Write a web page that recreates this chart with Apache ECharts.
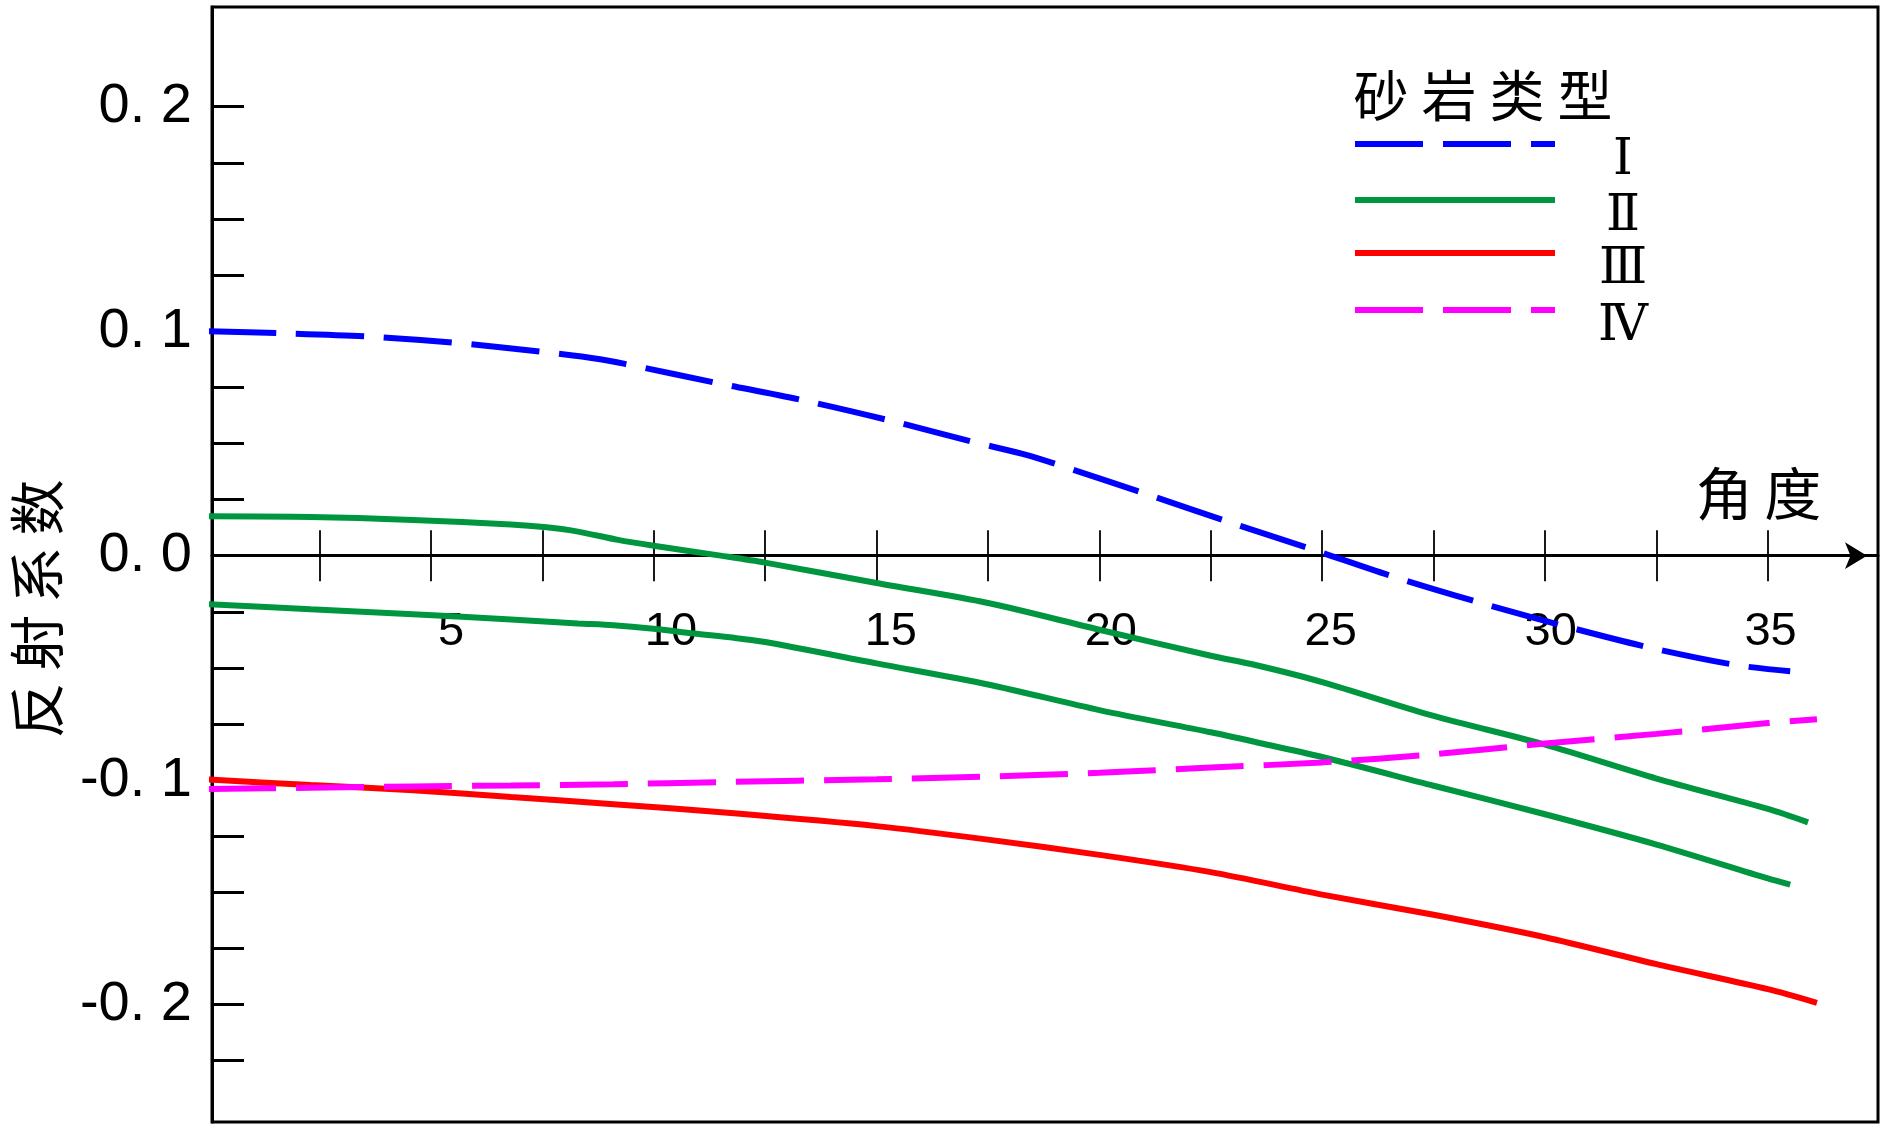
<!DOCTYPE html>
<html><head><meta charset="utf-8">
<script src="https://cdn.jsdelivr.net/npm/echarts@6/dist/echarts.min.js"></script>
<style>html,body{margin:0;padding:0;background:#fff}#c{width:1890px;height:1130px}</style>
</head><body><div id="c"></div>
<script>
// ---- data ----
const typeNames = ['Ⅰ', 'Ⅱ', 'Ⅲ', 'Ⅳ'];
const legendTitle = '砂岩类型';
const xName = '角度';
const yName = '反射系数';

const angleI = [0, 1.6, 3.6, 5.5, 7.5, 8.8, 9.5, 11.4, 13.4, 15.3, 17.2, 18.4, 19.1, 21.0, 22.9, 24.8, 26.6, 28.6, 30.5, 32.4, 34.3, 35.5];
const refI   = [0.1000, 0.0991, 0.0976, 0.0949, 0.0908, 0.0875, 0.0848, 0.0770, 0.0690, 0.0602, 0.0505, 0.0447, 0.0403, 0.0278, 0.0150, 0.0026, -0.0094, -0.0213, -0.0317, -0.0412, -0.0488, -0.0515];

const angleIIa = [0, 2.3, 4.6, 6.8, 7.6, 8.3, 9.2, 10.0, 11.5, 12.5, 15.0, 17.5, 20.0, 22.5, 23.5, 25.0, 27.5, 30.0, 32.5, 35.0, 35.9];
const refIIa   = [0.0175, 0.0172, 0.0159, 0.0139, 0.0126, 0.0107, 0.0070, 0.0044, 0.0, -0.0031, -0.0122, -0.0211, -0.0330, -0.0446, -0.0487, -0.0563, -0.0714, -0.0842, -0.0993, -0.1128, -0.1188];

const angleIIb = [0, 2.3, 4.6, 6.8, 8.3, 9.1, 10.0, 10.9, 11.8, 12.5, 15.0, 17.5, 20.0, 22.5, 23.5, 25.0, 27.5, 30.0, 32.5, 35.0, 35.5];
const refIIb   = [-0.0216, -0.0239, -0.0261, -0.0285, -0.0302, -0.0310, -0.0326, -0.0347, -0.0366, -0.0385, -0.0480, -0.0574, -0.0688, -0.0787, -0.0830, -0.0897, -0.1025, -0.1152, -0.1287, -0.1438, -0.1466];

const angleIII = [0, 2.3, 4.6, 6.8, 9.1, 11.8, 15.0, 17.5, 20.0, 22.5, 25.0, 27.5, 30.0, 32.5, 35.0, 36.1];
const refIII   = [-0.0997, -0.1022, -0.1045, -0.1075, -0.1107, -0.1148, -0.1205, -0.1265, -0.1333, -0.1410, -0.1510, -0.1600, -0.1700, -0.1820, -0.1931, -0.1992];

const angleIV = [0, 2.3, 4.6, 6.8, 9.1, 11.5, 15.0, 17.5, 20.0, 22.5, 25.0, 27.5, 30.0, 32.5, 35.0, 36.1];
const refIV   = [-0.1040, -0.1034, -0.1028, -0.1024, -0.1018, -0.1009, -0.0996, -0.0984, -0.0967, -0.0944, -0.0921, -0.0885, -0.0837, -0.0794, -0.0746, -0.0729];

const xTickValues = [2.5, 5, 7.5, 10, 12.5, 15, 17.5, 20, 22.5, 25, 27.5, 30, 32.5, 35];
const xLabelValues = [5, 10, 15, 20, 25, 30, 35];
const yTickValues = [-0.225, -0.2, -0.175, -0.15, -0.125, -0.1, -0.075, -0.05, -0.025, 0, 0.025, 0.05, 0.075, 0.1, 0.125, 0.15, 0.175, 0.2];
const yLabelValues = [-0.2, -0.1, 0, 0.1, 0.2];

// ---- helpers ----
const cjk = '"Noto Sans CJK SC", sans-serif';
const latin = '"Liberation Sans", Arial, sans-serif';
const roman = '"DejaVu Serif", "Liberation Serif", serif';
const spaced = (s, key) => s.split('').map(ch => '{' + key + '|' + ch + '}').join('');
const zip = (xs, ys) => xs.map((x, i) => [x, ys[i]]);

const xMin = 0.09, xMax = 37.47;
const yMin = -0.2523, yMax = 0.2444;

const tickCommon = { show: true, inside: false, length: 25.5, lineStyle: { color: '#000', width: 1.8 }, customValues: xTickValues };

// one legend block per row, so the row spacing can be set exactly
const legendRowTops = [102, 158, 211, 268];
const legends = typeNames.map((n, i) => ({
  data: [n], orient: 'vertical', left: 1352, top: legendRowTops[i], padding: 0,
  itemWidth: 200, itemHeight: 20, selectedMode: false,
  lineStyle: { width: 6 },
  itemStyle: { opacity: 0, borderWidth: 0 },
  formatter: v => '{r|' + v + '}',
  textStyle: { rich: { r: { fontFamily: roman, fontSize: 50, width: 126, align: 'center', lineHeight: 30, padding: [34, 0, 0, 0], color: '#000' } } }
}));

const chart = echarts.init(document.getElementById('c'), null, { renderer: 'canvas' });
chart.setOption({
  animation: false,
  backgroundColor: '#fff',
  title: {
    text: spaced(legendTitle, 't'), left: 1347, top: 65, padding: 0,
    textStyle: { fontWeight: 'normal', rich: { t: { fontFamily: cjk, fontSize: 55, fontWeight: 'normal', width: 68, align: 'center', lineHeight: 60, color: '#000' } } }
  },
  legend: legends,
  grid: [
    { left: 212, right: 12, top: 7, bottom: 8, show: true, borderColor: '#000', borderWidth: 3, backgroundColor: 'transparent' },
    { left: 231, width: 1627.6, top: 7, height: 549 }
  ],
  xAxis: [
    {
      type: 'value', gridIndex: 0, min: xMin, max: xMax, position: 'bottom',
      name: spaced(xName, 'x'), nameLocation: 'end', nameGap: -119.5,
      nameTextStyle: { align: 'center', verticalAlign: 'middle', padding: [0, 0, 124, 0],
        rich: { x: { fontFamily: cjk, fontSize: 57, width: 68.7, align: 'center', color: '#000' } } },
      axisLine: { show: true, onZero: true, onZeroAxisIndex: 0, lineStyle: { color: '#000', width: 3 },
        symbol: ['none', 'arrow'], symbolSize: [20, 22], symbolOffset: [0, -11] },
      axisTick: tickCommon,
      axisLabel: { show: false }, splitLine: { show: false }
    },
    {
      type: 'value', gridIndex: 0, min: xMin, max: xMax, position: 'top',
      axisLine: { show: false, onZero: true, onZeroAxisIndex: 0 },
      axisTick: tickCommon,
      axisLabel: { show: false }, splitLine: { show: false }
    },
    {
      type: 'value', gridIndex: 1, min: 0, max: 37, position: 'bottom',
      axisLine: { show: false, onZero: false }, axisTick: { show: false }, splitLine: { show: false },
      axisLabel: { show: true, customValues: xLabelValues, margin: 76, verticalAlign: 'middle',
        fontFamily: latin, fontSize: 47, color: '#000' }
    }
  ],
  yAxis: [
    {
      type: 'value', gridIndex: 0, min: yMin, max: yMax, position: 'left',
      name: spaced(yName, 'y'), nameLocation: 'middle', nameRotate: 90, nameGap: 175.5,
      nameTextStyle: { align: 'center', verticalAlign: 'middle', padding: [0, 88.8, 0, 0],
        rich: { y: { fontFamily: cjk, fontSize: 56, width: 67.6, align: 'center', color: '#000' } } },
      axisLine: { show: true, onZero: false, lineStyle: { color: '#000', width: 3 } },
      axisTick: { show: true, inside: true, length: 32, lineStyle: { color: '#000', width: 3 }, customValues: yTickValues },
      axisLabel: { show: true, customValues: yLabelValues, margin: 20, fontFamily: latin, fontSize: 56, color: '#000',
        padding: [12, 0, 0, 0], formatter: v => v.toFixed(1).replace('.', '. ') },
      splitLine: { show: false }
    },
    { type: 'value', gridIndex: 1, show: false, min: 0, max: 1 }
  ],
  series: [
    { name: 'Ⅰ', type: 'line', xAxisIndex: 0, yAxisIndex: 0, data: zip(angleI, refI), symbol: 'none', smooth: 0.3,
      lineStyle: { color: '#0000ff', width: 6, type: [68, 20] }, itemStyle: { color: '#0000ff' } },
    { name: 'Ⅱ', type: 'line', xAxisIndex: 0, yAxisIndex: 0, data: zip(angleIIa, refIIa), symbol: 'none', smooth: 0.3,
      lineStyle: { color: '#009640', width: 6 }, itemStyle: { color: '#009640' } },
    { name: 'Ⅱ', type: 'line', xAxisIndex: 0, yAxisIndex: 0, data: zip(angleIIb, refIIb), symbol: 'none', smooth: 0.3,
      lineStyle: { color: '#009640', width: 6 }, itemStyle: { color: '#009640' } },
    { name: 'Ⅲ', type: 'line', xAxisIndex: 0, yAxisIndex: 0, data: zip(angleIII, refIII), symbol: 'none', smooth: 0.3,
      lineStyle: { color: '#ff0000', width: 6 }, itemStyle: { color: '#ff0000' } },
    { name: 'Ⅳ', type: 'line', xAxisIndex: 0, yAxisIndex: 0, data: zip(angleIV, refIV), symbol: 'none', smooth: 0.3,
      lineStyle: { color: '#ff00ff', width: 6, type: [68, 20] }, itemStyle: { color: '#ff00ff' } }
  ]
});
</script>
</body></html>
